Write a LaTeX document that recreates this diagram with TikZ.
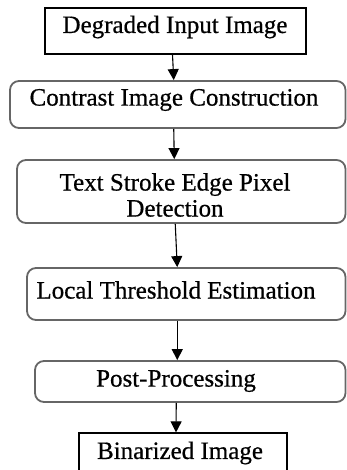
\documentclass[tikz,border=0pt]{standalone}
\usepackage{fontspec}
\setmainfont[FakeBold=0.6]{Liberation Serif}
\usetikzlibrary{arrows.meta}

\begin{document}
\begin{tikzpicture}[x=1pt, y=-1pt,
    sqbox/.style={draw=black, line width=1.2pt, inner sep=0pt},
    rndbox/.style={draw=black!60, line width=1.8pt, rounded corners=9pt, inner sep=0pt},
    lbl/.style={font=\fontsize{25}{26}\selectfont, align=center, inner sep=0pt},
    arr/.style={line width=1.1pt, -{Triangle[length=11pt, width=11pt]}}]

    \useasboundingbox (0,0) rectangle (347,470);
    \clip (0,0) rectangle (347,470);

    % Cajas del diagrama
    \node[sqbox, minimum width=261pt, minimum height=46pt] (input) at (175.5,31) {};
    \node[rndbox, minimum width=335.5pt, minimum height=47pt] (contrast) at (177.75,104.5) {};
    \node[rndbox, minimum width=328.5pt, minimum height=63pt] (stroke) at (181.25,191.5) {};
    \node[rndbox, minimum width=318.5pt, minimum height=52pt] (thresh) at (186.25,294) {};
    \node[rndbox, minimum width=310.5pt, minimum height=41pt] (post) at (190.25,381.5) {};
    \node[sqbox, minimum width=208pt, minimum height=50pt] (binar) at (183,458) {};

    % Textos
    \node[lbl] (inputtxt) at (175,27) {Degraded Input Image};
    \node[lbl] (contrasttxt) at (174,100) {Contrast Image Construction};
    \node[lbl] (stroketxt) at (175,195) {Text Stroke Edge Pixel\\Detection};
    \node[lbl] (threshtxt) at (176,290) {Local Threshold Estimation};
    \node[lbl] (posttxt) at (176,381) {Post-Processing};
    \node[lbl] (binartxt) at (180,453) {Binarized Image};

    % Flechas
    \draw[arr] ([xshift=-3pt]input.south) -- ([xshift=-4pt]contrast.north);
    \draw[arr] ([xshift=-4pt]contrast.south) -- ([xshift=-7pt]stroke.north);
    \draw[arr] ([xshift=-6pt]stroke.south) -- ([xshift=-9pt]thresh.north);
    \draw[arr] ([xshift=-9pt]thresh.south) -- ([xshift=-13pt]post.north);
    \draw[arr] ([xshift=-14pt]post.south) -- ([xshift=-7pt]binar.north);

\end{tikzpicture}
\end{document}
